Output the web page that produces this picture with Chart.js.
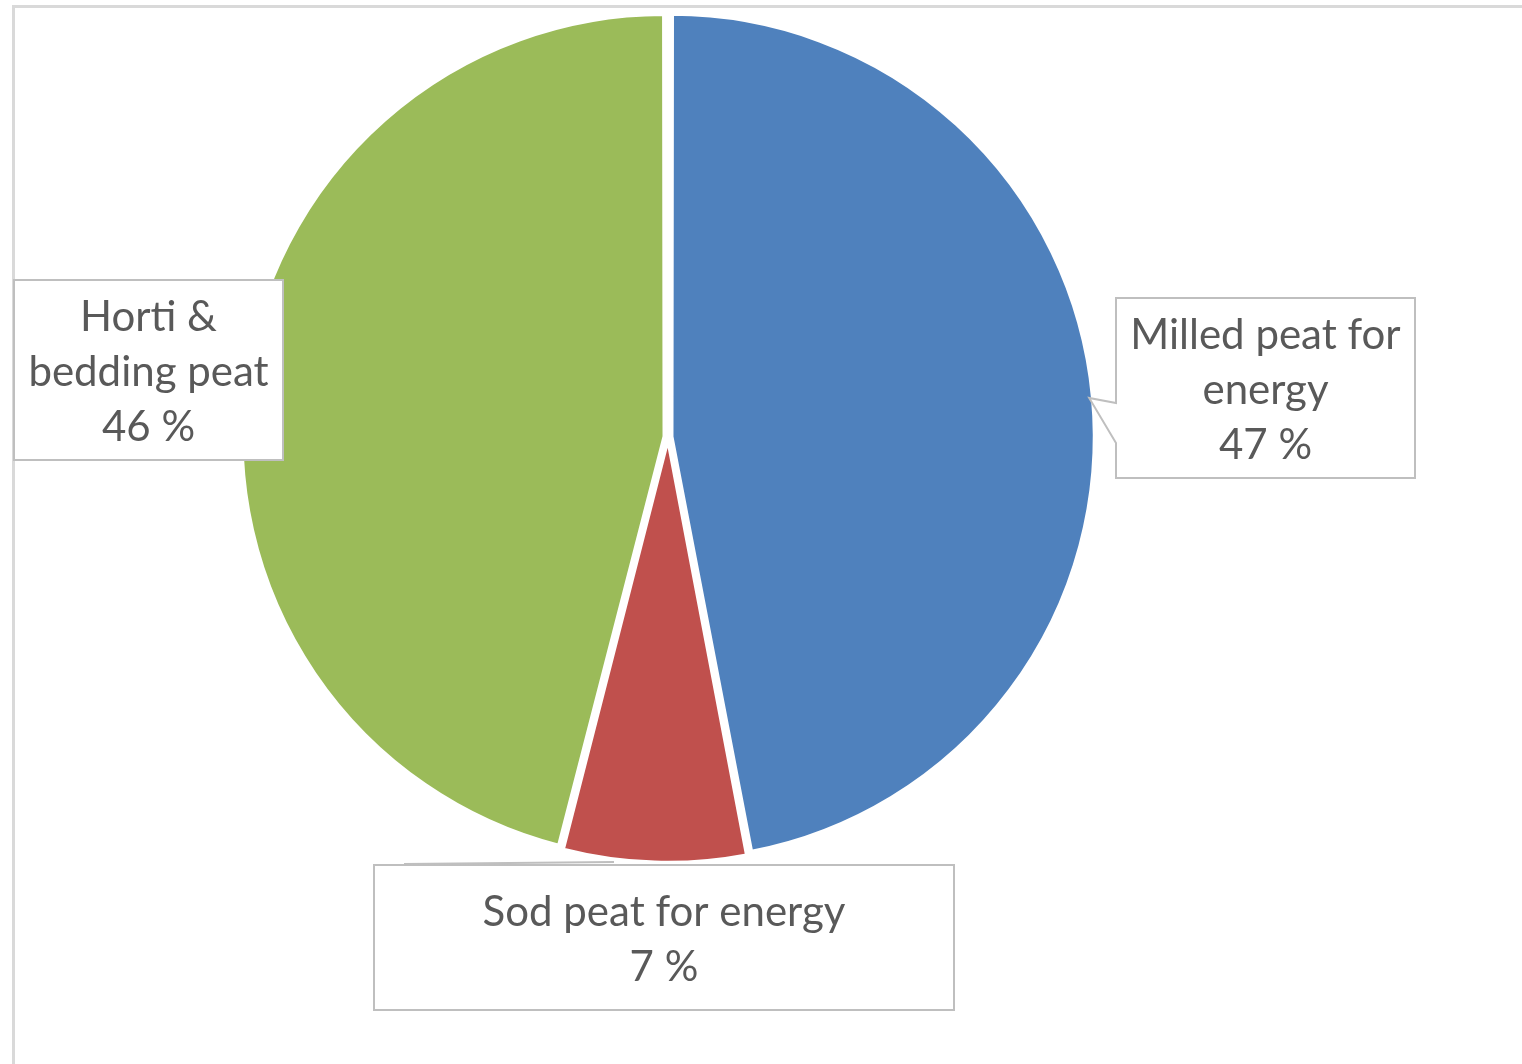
<!DOCTYPE html>
<html>
<head>
<meta charset="utf-8">
<script src="https://cdn.jsdelivr.net/npm/chart.js@4/dist/chart.umd.min.js"></script>
<style>
  body { margin: 0; background: #fff; }
  canvas { display: block; }
</style>
</head>
<body>
<canvas id="peatChart" width="1522" height="1064"></canvas>
<script>
const categories = ['Milled peat for energy', 'Sod peat for energy', 'Horti & bedding peat'];
const shares = [47, 7, 46];
const sliceColors = ['#4f81bd', '#c0504d', '#9bbb59'];

// callout boxes, one per slice (same order as categories)
const boxes = [
    { x: 1116, y: 298, w: 299, h: 180, maxW: 285, pointerY: 398, side: 'right' },
    { x: 374, y: 865, w: 580, h: 145, maxW: 560, side: 'bottom' },
    { x: 14, y: 280, w: 269, h: 180, maxW: 258, side: 'left' }
];

function wrap(ctx, text, maxW) {
    const words = text.split(' ');
    const lines = [];
    let cur = '';
    words.forEach(function(w) {
        const test = cur ? cur + ' ' + w : w;
        if (ctx.measureText(test).width > maxW && cur) {
            lines.push(cur);
            cur = w;
        } else {
            cur = test;
        }
    });
    if (cur) lines.push(cur);
    return lines;
}

const frameAndCallouts = {
    id: 'frameAndCallouts',
    beforeDraw: function(chart) {
        const ctx = chart.ctx;
        ctx.save();
        ctx.strokeStyle = '#d9d9d9';
        ctx.lineWidth = 3;
        ctx.beginPath();
        ctx.moveTo(13.5, 1064);
        ctx.lineTo(13.5, 6.5);
        ctx.lineTo(1522, 6.5);
        ctx.stroke();
        ctx.restore();
    },
    afterDraw: function(chart) {
        const ctx = chart.ctx;
        const meta = chart.getDatasetMeta(0);
        const total = shares.reduce(function(a, b) { return a + b; }, 0);
        ctx.save();
        ctx.font = '42px Lato';
        ctx.textAlign = 'center';
        ctx.textBaseline = 'middle';
        boxes.forEach(function(b, i) {
            const arc = meta.data[i];
            ctx.fillStyle = '#ffffff';
            ctx.strokeStyle = '#bfbfbf';
            ctx.lineWidth = 2;
            ctx.beginPath();
            if (b.side === 'right') {
                // pointer tip sits on the slice edge
                const dy = b.pointerY - arc.y;
                const tipX = arc.x + Math.sqrt(arc.outerRadius * arc.outerRadius - dy * dy) + 4;
                ctx.moveTo(b.x, b.y);
                ctx.lineTo(b.x + b.w, b.y);
                ctx.lineTo(b.x + b.w, b.y + b.h);
                ctx.lineTo(b.x, b.y + b.h);
                ctx.lineTo(b.x, b.y + 145);
                ctx.lineTo(tipX, b.pointerY);
                ctx.lineTo(b.x, b.y + 105);
                ctx.closePath();
            } else {
                ctx.rect(b.x, b.y, b.w, b.h);
            }
            ctx.fill();
            ctx.stroke();
            if (b.side === 'bottom') {
                ctx.beginPath();
                ctx.moveTo(b.x + 30, b.y - 1);
                ctx.lineTo(b.x + 240, b.y - 3);
                ctx.stroke();
            }
            ctx.fillStyle = '#595959';
            const lines = wrap(ctx, categories[i], b.maxW);
            lines.push(Math.round(shares[i] / total * 100) + ' %');
            const lh = 55;
            const cy = b.y + b.h / 2 + 2;
            const startY = cy - (lines.length - 1) * lh / 2;
            lines.forEach(function(l, k) {
                ctx.fillText(l, b.x + b.w / 2, startY + k * lh);
            });
        });
        ctx.restore();
    }
};

new Chart(document.getElementById('peatChart'), {
    type: 'pie',
    data: {
        labels: categories,
        datasets: [{
            data: shares,
            backgroundColor: sliceColors,
            borderColor: '#ffffff',
            borderWidth: 3,
            offset: 16
        }]
    },
    options: {
        responsive: false,
        animation: false,
        radius: 419,
        layout: {
            padding: { left: 0, right: 186, top: 0, bottom: 190 }
        },
        plugins: {
            legend: { display: false },
            tooltip: { enabled: false }
        }
    },
    plugins: [frameAndCallouts]
});
</script>
</body>
</html>
